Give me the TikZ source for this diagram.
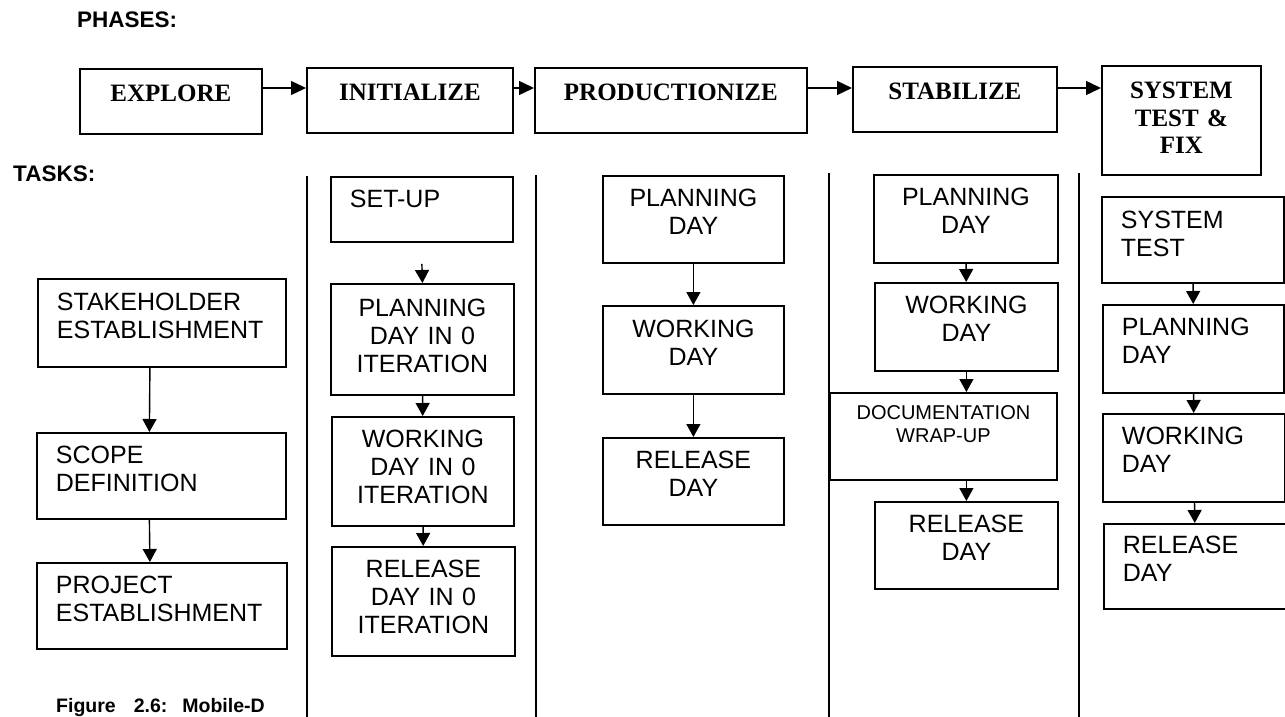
\documentclass[tikz,border=0pt]{standalone}
\usepackage{fontspec}
\setmainfont{Liberation Serif}
\setsansfont{Liberation Sans}
\usetikzlibrary{arrows.meta}

\begin{document}
\begin{tikzpicture}[
	x=1pt, y=-1pt,
	phase/.style={draw, line width=1.8pt, anchor=north west, align=center, inner xsep=4pt, inner ysep=0pt,
		font=\rmfamily\bfseries\fontsize{25}{27.5}\selectfont, text height=33pt, text depth=32pt},
	task/.style={draw, line width=1.8pt, anchor=north west, align=center, inner xsep=19pt, inner ysep=0pt,
		font=\sffamily\fontsize{25}{28}\selectfont, text height=31pt, text depth=56pt},
	small/.style={font=\sffamily\fontsize{20}{23}\selectfont},
	head/.style={anchor=base west, inner sep=0pt, font=\sffamily\bfseries\fontsize{22.5}{26}\selectfont},
	flow/.style={line width=1.4pt, -{Triangle[length=13pt, width=14pt]}},
	sepline/.style={line width=1.5pt}
]
\useasboundingbox (0,0) rectangle (1285,717);

% headings
\node[head] (phases) at (77,28) {PHASES:};
\node[head] (tasks) at (13,181) {TASKS:};
\node[head, font=\sffamily\bfseries\fontsize{19.5}{22}\selectfont] (caption) at (56,712)
	{Figure\hspace{18pt}2.6:\hspace{15pt}Mobile-D};

% phases
\node[phase, text width=174pt] (explore) at (79,68) {EXPLORE};
\node[phase, text width=198pt] (initialize) at (306,67) {INITIALIZE};
\node[phase, text width=264pt] (production) at (534,67) {PRODUCTIONIZE};
\node[phase, text width=196pt] (stabilize) at (852,66) {STABILIZE};
\node[phase, text width=151pt, text depth=76pt] (systest) at (1101,65) {SYSTEM\\TEST \&\\FIX};

\coordinate (pline) at (0,88);
\draw[flow, -{Triangle[length=15pt, width=14pt]}] (explore.east |- pline) -- (initialize.west |- pline);
\draw[flow, -{Triangle[length=15pt, width=14pt]}] (initialize.east |- pline) -- (production.west |- pline);
\draw[flow, -{Triangle[length=15pt, width=14pt]}] (production.east |- pline) -- (stabilize.west |- pline);
\draw[flow, -{Triangle[length=15pt, width=14pt]}] (stabilize.east |- pline) -- (systest.west |- pline);

% column separators
\foreach \x/\y in {307/176, 536/175, 829/173, 1079/173}
	\draw[sepline] (\x,\y) -- (\x,717);

% explore tasks
\node[task, align=left, text width=210pt, text height=32pt] (stake) at (37,278) {STAKEHOLDER\\ESTABLISHMENT};
\node[task, align=left, text width=211pt, text depth=55pt] (scope) at (36,432) {SCOPE\\DEFINITION};
\node[task, align=left, text width=212pt, text depth=55pt] (project) at (36,562) {PROJECT\\ESTABLISHMENT};
\draw[flow] ([xshift=-12pt]stake.south) -- ([xshift=-12pt]scope.north);
\draw[flow] ([xshift=-12pt]scope.south) -- ([xshift=-12pt]project.north);

% initialize tasks
\node[task, align=left, text width=144pt, text depth=34pt] (setup) at (330,176) {SET-UP};
\node[task, text width=145pt, text height=33pt, text depth=78pt] (plan0) at (330,283) {PLANNING\\DAY IN 0\\ITERATION};
\node[task, text width=144pt, text depth=78pt] (work0) at (331,416) {WORKING\\DAY IN 0\\ITERATION};
\node[task, text width=145pt, text depth=78pt] (rel0) at (331,546) {RELEASE\\DAY IN 0\\ITERATION};
\draw[flow] ([yshift=-21pt]setup.south) -- (plan0.north);
\draw[flow] (plan0) -- (work0);
\draw[flow] (work0) -- (rel0);

% productionize tasks
\node[task, text width=143pt] (plan1) at (602,175) {PLANNING\\DAY};
\node[task, text width=143pt, text height=32pt] (work1) at (602,305) {WORKING\\DAY};
\node[task, text width=143pt] (rel1) at (602,437) {RELEASE\\DAY};
\draw[flow] (plan1) -- (work1);
\draw[flow] (work1) -- (rel1);

% stabilize tasks
\node[task, text width=146pt, text depth=57pt] (plan2) at (873,174) {PLANNING\\DAY};
\node[task, text width=145pt, text depth=57pt] (work2) at (874,282) {WORKING\\DAY};
\node[task, small, text width=189pt, text height=27pt, text depth=60pt] (docu) at (829,392) {DOCUMENTATION\\WRAP-UP};
\node[task, text width=145pt] (rel2) at (874,501) {RELEASE\\DAY};
\draw[flow] (plan2) -- (work2);
\draw[flow] (work2.south) -- (work2.south |- docu.north);
\draw[flow] (rel2.north |- docu.south) -- (rel2.north);

% system test tasks
\node[task, align=left, text width=144pt, text height=32pt, text depth=54pt] (systask) at (1101,196) {SYSTEM\\TEST};
\node[task, align=left, text width=143pt, text depth=57pt] (plan3) at (1102,304) {PLANNING\\DAY};
\node[task, align=left, text width=144pt, text depth=57pt] (work3) at (1102,413) {WORKING\\DAY};
\node[task, align=left, text width=145pt, text height=30pt, text depth=55pt] (rel3) at (1103,523) {RELEASE\\DAY};
\draw[flow] (systask) -- (plan3);
\draw[flow] (plan3) -- (work3);
\draw[flow] (work3) -- (rel3);
\end{tikzpicture}
\end{document}
